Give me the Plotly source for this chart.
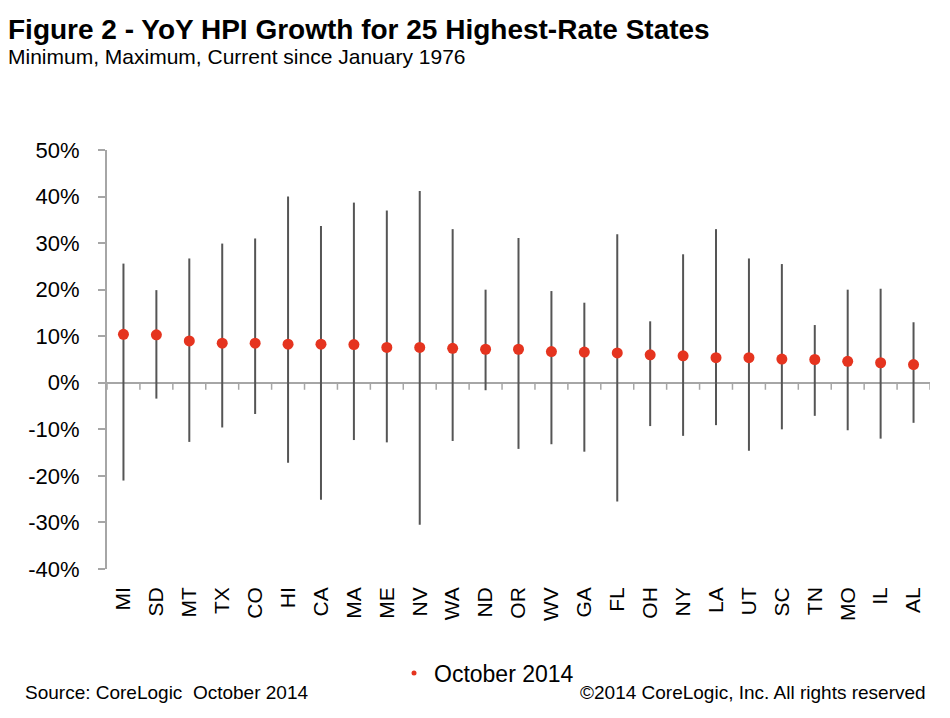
import plotly.graph_objects as go

states = ["MI", "SD", "MT", "TX", "CO", "HI", "CA", "MA", "ME", "NV", "WA", "ND", "OR",
          "WV", "GA", "FL", "OH", "NY", "LA", "UT", "SC", "TN", "MO", "IL", "AL"]
max_vals = [25.6, 19.9, 26.7, 29.9, 31.0, 40.0, 33.7, 38.7, 37.0, 41.2, 33.0, 20.0, 31.1,
            19.7, 17.2, 31.9, 13.2, 27.6, 33.0, 26.7, 25.5, 12.4, 20.0, 20.2, 13.0]
min_vals = [-21.0, -3.4, -12.7, -9.6, -6.7, -17.2, -25.1, -12.3, -12.8, -30.5, -12.5, -1.6, -14.2,
            -13.2, -14.8, -25.5, -9.3, -11.4, -9.1, -14.6, -10.0, -7.1, -10.2, -12.0, -8.6]
current = [10.4, 10.3, 9.0, 8.5, 8.5, 8.3, 8.3, 8.2, 7.6, 7.6, 7.4, 7.2, 7.2,
           6.7, 6.6, 6.4, 6.0, 5.8, 5.4, 5.4, 5.1, 5.0, 4.6, 4.3, 3.9]
y_ticks = [-40, -30, -20, -10, 0, 10, 20, 30, 40, 50]

# page body margin shifts the figure by 8px; compensate
OFF = 8
W, H = 950 - OFF, 718 - OFF
L, T = 107 - OFF, 150 - OFF
R = W - (930 - OFF)
B = H - (569 - OFF)
PW, PH = W - L - R, H - T - B


def px_x(x):
    """viewport x pixel -> paper fraction"""
    return (x - OFF - L) / PW


def px_y(y):
    """viewport y pixel -> paper fraction"""
    return (H - B - (y - OFF)) / PH


FONT = "Liberation Sans, Arial, sans-serif"
GRAY = "#a6a6a6"

idx = list(range(len(states)))

# range bars
bx, by = [], []
for i, lo, hi in zip(idx, min_vals, max_vals):
    bx += [i, i, None]
    by += [lo, hi, None]

# category boundary ticks on the zero line
tick_len = 1.5
tx, ty = [], []
for i in range(len(states) + 1):
    tx += [i - 0.5, i - 0.5, None]
    ty += [0, -tick_len, None]

fig = go.Figure()
fig.add_trace(go.Scatter(x=tx, y=ty, mode="lines", line=dict(color=GRAY, width=1.5),
                         showlegend=False, hoverinfo="skip"))
fig.add_trace(go.Scatter(x=bx, y=by, mode="lines", line=dict(color="#555555", width=2),
                         showlegend=False, hoverinfo="skip"))
fig.add_trace(go.Scatter(x=idx, y=current, mode="markers",
                         marker=dict(color="#E5341F", size=11, line=dict(width=0)),
                         showlegend=False, name="October 2014"))
fig.add_trace(go.Scatter(x=[None], y=[None], mode="markers",
                         marker=dict(color="#E5341F", size=5),
                         name="October 2014", showlegend=True))

fig.update_layout(
    width=W, height=H,
    margin=dict(l=L, r=R, t=T, b=B),
    paper_bgcolor="white", plot_bgcolor="white",
    font=dict(family=FONT, color="#000000"),
    xaxis=dict(range=[-0.5, len(states) - 0.5], tickvals=idx, ticktext=states,
               tickangle=-90, showgrid=False, zeroline=False, showline=False,
               ticks="", tickfont=dict(size=21, family=FONT), ticklabelstandoff=13),
    yaxis=dict(range=[-40, 50], tickvals=y_ticks, ticktext=[f"{v}%" for v in y_ticks],
               showgrid=False, zeroline=True, zerolinecolor=GRAY, zerolinewidth=2,
               showline=True, linecolor=GRAY, linewidth=2, ticks="outside",
               ticklen=7, tickcolor=GRAY, tickwidth=1.5,
               tickfont=dict(size=22, family=FONT), ticklabelstandoff=14),
    legend=dict(orientation="h", x=px_x(394), y=px_y(673), xanchor="left", yanchor="middle",
                font=dict(size=23, family=FONT), itemwidth=30, bgcolor="rgba(0,0,0,0)"),
    showlegend=True,
)

annotations = [
    dict(text="<b>Figure 2 - YoY HPI Growth for 25 Highest-Rate States</b>",
         x=px_x(6), y=px_y(29), xanchor="left", yanchor="middle", font=dict(size=28)),
    dict(text="Minimum, Maximum, Current since January 1976",
         x=px_x(6), y=px_y(57), xanchor="left", yanchor="middle", font=dict(size=21)),
    dict(text="Source: CoreLogic  October 2014",
         x=px_x(23), y=px_y(692), xanchor="left", yanchor="middle", font=dict(size=19)),
    dict(text="©2014 CoreLogic, Inc. All rights reserved",
         x=px_x(928), y=px_y(692), xanchor="right", yanchor="middle", font=dict(size=19)),
]
for a in annotations:
    a.update(xref="paper", yref="paper", showarrow=False)
    a["font"]["family"] = FONT
    a["font"]["color"] = "#000000"
fig.update_layout(annotations=annotations)

fig.write_html("out.html")
